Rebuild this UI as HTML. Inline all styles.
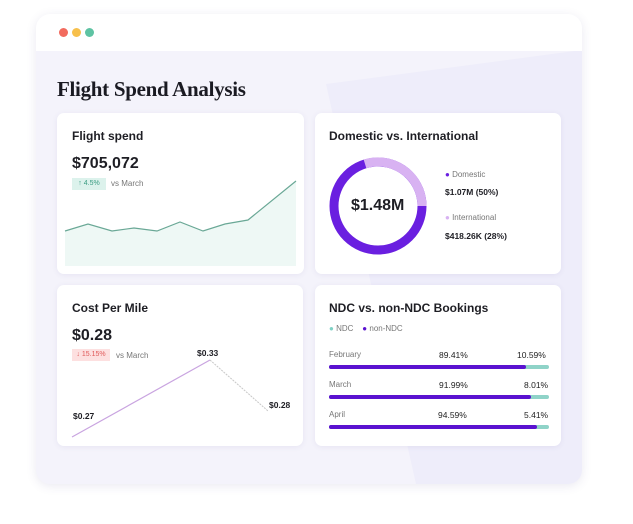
<!DOCTYPE html>
<html><head><style>
body{margin:0;width:633px;height:524px;background:#fff;font-family:"Liberation Sans",sans-serif;position:relative;overflow:hidden}
.win{position:absolute;left:36px;top:14px;width:546px;height:470px;border-radius:14px;background:#f4f3fb;box-shadow:0 2px 10px rgba(80,70,140,.12);overflow:hidden}
.bar{position:absolute;left:0;top:0;right:0;height:37px;background:#fff}
.dot{position:absolute;top:14px;width:9px;height:9px;border-radius:50%}
.card{position:absolute;background:#fff;border-radius:7px;box-shadow:0 1px 6px rgba(80,70,140,.08)}
.t{position:absolute;font-size:12px;font-weight:bold;color:#1e1e24;white-space:nowrap}
.s{position:absolute;font-size:8px;color:#777;white-space:nowrap}
</style></head><body>
<div class="win">
<svg style="position:absolute;left:0;top:0" width="546" height="470"><polygon points="290,70 546,36 546,470 380,470" fill="#eeedfa"/></svg>
<div class="bar"></div>
<div class="dot" style="left:23px;background:#f26b5e"></div>
<div class="dot" style="left:36px;background:#f7c04c"></div>
<div class="dot" style="left:49px;background:#5ec3a3"></div>
<div style="position:absolute;left:21px;top:63px;font-family:'Liberation Serif',serif;font-size:21px;font-weight:bold;color:#1a1a22;letter-spacing:-0.3px">Flight Spend Analysis</div>
</div>

<div class="card" style="left:57px;top:113px;width:247px;height:161px"></div>
<div class="card" style="left:315px;top:113px;width:246px;height:161px"></div>
<div class="card" style="left:57px;top:285px;width:246px;height:161px"></div>
<div class="card" style="left:315px;top:285px;width:246px;height:161px"></div>

<svg style="position:absolute;left:0;top:0" width="633" height="524">
<polygon points="65,231 88,224 112,231 134,228 157,231 180,222 203,231 225,224 248,220 296,181 296,266 65,266" fill="#eef8f5"/>
<polyline points="65,231 88,224 112,231 134,228 157,231 180,222 203,231 225,224 248,220 296,181" fill="none" stroke="#6aa896" stroke-width="1.2"/>
<polyline points="72,437 210,360" fill="none" stroke="#c9a4e0" stroke-width="1.2"/>
<polyline points="210,360 268,411" fill="none" stroke="#c8c8c8" stroke-width="1" stroke-dasharray="2,1"/>
</svg>

<div class="t" style="left:72px;top:129px">Flight spend</div>
<div class="t" style="left:72px;top:155px;font-size:16px">$705,072</div>
<div style="position:absolute;left:72px;top:178px;width:34px;height:12px;background:#dcf2ec;font-size:7px;color:#3a9c82;line-height:12px;text-align:center">↑ 4.5%</div>
<div class="s" style="left:111px;top:179px">vs March</div>

<div class="t" style="left:329px;top:129px">Domestic vs. International</div>
<svg style="position:absolute;left:329px;top:157px" width="98" height="98">
<circle cx="49" cy="49" r="44" fill="none" stroke="#6a1fe0" stroke-width="9"/>
<path d="M36 6.9 A44 44 0 0 1 93 49" fill="none" stroke="#d8b2f2" stroke-width="9"/>
</svg>
<div class="t" style="left:351px;top:197px;font-size:16px">$1.48M</div>
<div class="s" style="left:445px;top:170px"><span style="color:#6a1fe0">●</span> Domestic</div>
<div class="t" style="left:445px;top:187px;font-size:8.5px">$1.07M (50%)</div>
<div class="s" style="left:445px;top:213px"><span style="color:#d8b2f2">●</span> International</div>
<div class="t" style="left:445px;top:231px;font-size:8.5px">$418.26K (28%)</div>

<div class="t" style="left:72px;top:301px">Cost Per Mile</div>
<div class="t" style="left:72px;top:327px;font-size:16px">$0.28</div>
<div style="position:absolute;left:72px;top:349px;width:38px;height:12px;background:#fde0e0;font-size:7px;color:#e05a5a;line-height:12px;text-align:center">↓ 15.15%</div>
<div class="s" style="left:116px;top:351px">vs March</div>
<div class="t" style="left:197px;top:348px;font-size:8.5px">$0.33</div>
<div class="t" style="left:73px;top:411px;font-size:8.5px">$0.27</div>
<div class="t" style="left:269px;top:400px;font-size:8.5px">$0.28</div>

<div class="t" style="left:329px;top:301px">NDC vs. non-NDC Bookings</div>
<div class="s" style="left:329px;top:324px"><span style="color:#7fd1c5">●</span> NDC &nbsp;&nbsp; <span style="color:#5a12d0">●</span> non-NDC</div>

<div class="s" style="left:329px;top:350px">February</div>
<div class="t" style="left:439px;top:350px;font-size:8.5px;font-weight:normal;color:#222">89.41%</div>
<div class="t" style="left:517px;top:350px;font-size:8.5px;font-weight:normal;color:#222">10.59%</div>
<div style="position:absolute;left:329px;top:365px;width:220px;height:4px;border-radius:2px;background:#8fd3c8"><div style="width:89.4%;height:4px;border-radius:2px;background:#5a12d0"></div></div>

<div class="s" style="left:329px;top:380px">March</div>
<div class="t" style="left:439px;top:380px;font-size:8.5px;font-weight:normal;color:#222">91.99%</div>
<div class="t" style="left:524px;top:380px;font-size:8.5px;font-weight:normal;color:#222">8.01%</div>
<div style="position:absolute;left:329px;top:395px;width:220px;height:4px;border-radius:2px;background:#8fd3c8"><div style="width:92%;height:4px;border-radius:2px;background:#5a12d0"></div></div>

<div class="s" style="left:329px;top:410px">April</div>
<div class="t" style="left:438px;top:410px;font-size:8.5px;font-weight:normal;color:#222">94.59%</div>
<div class="t" style="left:524px;top:410px;font-size:8.5px;font-weight:normal;color:#222">5.41%</div>
<div style="position:absolute;left:329px;top:425px;width:220px;height:4px;border-radius:2px;background:#8fd3c8"><div style="width:94.6%;height:4px;border-radius:2px;background:#5a12d0"></div></div>
</body></html>
